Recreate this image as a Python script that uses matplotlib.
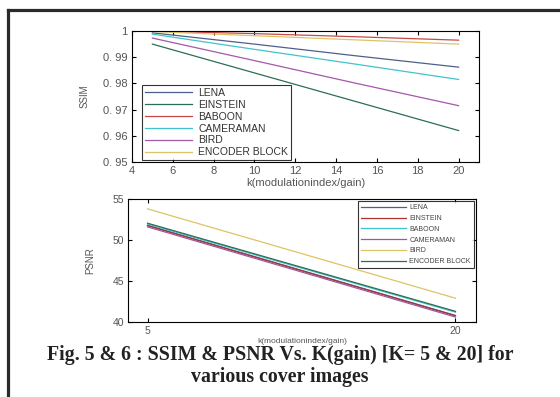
import matplotlib
matplotlib.use("Agg")
import matplotlib.pyplot as plt
from matplotlib.lines import Line2D

plt.rcParams['font.family'] = ['Liberation Sans', 'DejaVu Sans']

series = ["LENA", "EINSTEIN", "BABOON", "CAMERAMAN", "BIRD", "ENCODER BLOCK"]

# SSIM (top chart)
k_ssim = [5, 10, 15, 20]
ssim_lena = [0.9993, 0.9950, 0.9905, 0.9862]
ssim_einstein = [0.9950, 0.9840, 0.9730, 0.9620]
ssim_baboon = [1.0000, 0.9990, 0.9978, 0.9965]
ssim_cameraman = [0.9988, 0.9930, 0.9873, 0.9815]
ssim_bird = [0.9973, 0.9887, 0.9800, 0.9715]
ssim_encoder = [0.9998, 0.9982, 0.9966, 0.9950]
ssim_colors = ["#4e5f8c", "#2c6e55", "#c84848", "#40c4cc", "#a458a8", "#dcc466"]

# PSNR (bottom chart)
k_psnr = [5, 20]
psnr_lena = [51.80, 40.80]
psnr_einstein = [51.75, 40.75]
psnr_baboon = [51.95, 41.20]
psnr_cameraman = [51.60, 40.60]
psnr_bird = [53.80, 42.90]
psnr_encoder = [52.05, 41.30]
psnr_colors = ["#4e5f8c", "#b03030", "#40c4cc", "#9a5aa0", "#dcc466", "#2c6e55"]

ssim_xticks = [4, 6, 8, 10, 12, 14, 16, 18, 20]
ssim_yticks = [0.95, 0.96, 0.97, 0.98, 0.99, 1.0]
ssim_ylabels = ["0. 95", "0. 96", "0. 97", "0. 98", "0. 99", "1"]
psnr_xticks = [5, 20]
psnr_yticks = [40, 45, 50, 55]

W, H = 560, 397
fig = plt.figure(figsize=(W / 100, H / 100), dpi=100)
fig.patch.set_facecolor("white")

def ax_rect(x0, y0, x1, y1):
    return [x0 / W, 1 - y1 / H, (x1 - x0) / W, (y1 - y0) / H]

tick_color = "#555555"

# Top axes
ax1 = fig.add_axes(ax_rect(132, 31, 479, 162))
for vals, c in zip([ssim_lena, ssim_einstein, ssim_baboon, ssim_cameraman, ssim_bird, ssim_encoder], ssim_colors):
    ax1.plot(k_ssim, vals, color=c, lw=0.9)
ax1.set_xlim(4, 21)
ax1.set_ylim(0.95, 1.0)
ax1.set_xticks(ssim_xticks)
ax1.set_yticks(ssim_yticks)
ax1.set_yticklabels(ssim_ylabels)
ax1.tick_params(direction="in", top=True, right=True, length=3, labelsize=8,
                labelcolor=tick_color, pad=3)
ax1.set_xlabel("k(modulationindex/gain)", fontsize=8, color=tick_color, labelpad=1)
ax1.set_ylabel("SSIM", fontsize=7, color=tick_color, labelpad=10)
leg1 = ax1.legend(series, loc="lower left", bbox_to_anchor=(0.025, 0.0), fontsize=7.5,
                  frameon=True, fancybox=False, edgecolor="black", handlelength=4.5,
                  labelspacing=0.18, borderpad=0.3, handletextpad=0.6, borderaxespad=0.15)
leg1.get_frame().set_linewidth(0.8)
for t in leg1.get_texts():
    t.set_color("#333333")

# Bottom axes
ax2 = fig.add_axes(ax_rect(128, 199, 476, 322))
for vals, c in zip([psnr_lena, psnr_einstein, psnr_baboon, psnr_cameraman, psnr_bird, psnr_encoder], psnr_colors):
    ax2.plot(k_psnr, vals, color=c, lw=0.9)
ax2.set_xlim(4.05, 21)
ax2.set_ylim(40, 55)
ax2.set_xticks(psnr_xticks)
ax2.set_yticks(psnr_yticks)
ax2.tick_params(direction="in", top=True, right=True, length=3, labelsize=7.5,
                labelcolor=tick_color, pad=3)
ax2.set_xlabel("k(modulationindex/gain)", fontsize=6, color=tick_color, labelpad=1)
ax2.set_ylabel("PSNR", fontsize=7, color=tick_color, labelpad=12)
leg2 = ax2.legend(series, loc="upper right", fontsize=5, frameon=True, fancybox=False,
                  edgecolor="black", handlelength=6.5, labelspacing=0.55, borderpad=0.45,
                  handletextpad=0.5, borderaxespad=0.3)
leg2.get_frame().set_linewidth(0.8)
for t in leg2.get_texts():
    t.set_color("#444444")

# Caption
cap_font = ["Liberation Serif", "DejaVu Serif"]
fig.text(0.5, 1 - 355 / H, "Fig. 5 & 6 : SSIM & PSNR Vs. K(gain) [K= 5 & 20] for",
         ha="center", va="center", fontsize=14.3, fontweight="bold",
         family=cap_font, color="#222222")
fig.text(0.5, 1 - 377 / H, "various cover images",
         ha="center", va="center", fontsize=14.3, fontweight="bold",
         family=cap_font, color="#222222")

# Frame (extends past right/bottom edges)
fig.add_artist(Line2D([8 / W, 8 / W], [0, 1 - 10 / H], color="#2a2a2a", lw=2.3,
                      transform=fig.transFigure))
fig.add_artist(Line2D([8 / W, 1], [1 - 10 / H, 1 - 10 / H], color="#2a2a2a", lw=2.3,
                      transform=fig.transFigure))

fig.savefig("out.png", dpi=100)
